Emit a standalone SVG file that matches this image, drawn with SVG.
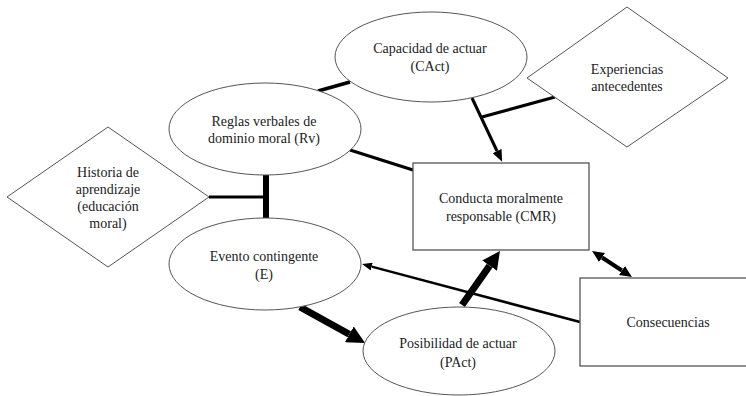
<svg xmlns="http://www.w3.org/2000/svg" width="746" height="396" viewBox="0 0 746 396">
<style>
.shape{fill:#fff;stroke:#555;stroke-width:1}
.box{fill:#fff;stroke:#555;stroke-width:1.3}
text{font-family:"Liberation Serif","Times New Roman",serif;font-size:14px;fill:#222;text-anchor:middle}
.c{stroke:#000;fill:none;stroke-linecap:butt}
</style>
<defs>
<marker id="a12" markerUnits="userSpaceOnUse" markerWidth="12" markerHeight="10" refX="0" refY="5" orient="auto"><path d="M0,0 L12,5 L0,10 z" fill="#000"/></marker>
<marker id="a10" markerUnits="userSpaceOnUse" markerWidth="10" markerHeight="8" refX="0" refY="4" orient="auto"><path d="M0,0 L10,4 L0,8 z" fill="#000"/></marker>
<marker id="a12b" markerUnits="userSpaceOnUse" markerWidth="12" markerHeight="11" refX="0" refY="5.5" orient="auto-start-reverse"><path d="M0,0 L12,5.5 L0,11 z" fill="#000"/></marker>
<marker id="a18" markerUnits="userSpaceOnUse" markerWidth="18" markerHeight="18" refX="0" refY="9" orient="auto"><path d="M0,0 L18,9 L0,18 z" fill="#000"/></marker>
</defs>
<g id="connectors">
<line class="c" x1="350" y1="82" x2="318" y2="91" stroke-width="3.5"/>
<line class="c" x1="350" y1="150" x2="413" y2="170" stroke-width="3"/>
<line class="c" x1="472" y1="98" x2="497" y2="151" stroke-width="3" marker-end="url(#a12)"/>
<line class="c" x1="555" y1="97" x2="482" y2="117" stroke-width="3"/>
<line class="c" x1="266" y1="175" x2="266" y2="218" stroke-width="6"/>
<line class="c" x1="209" y1="197" x2="266" y2="197" stroke-width="3"/>
<line class="c" x1="580" y1="322" x2="371.7" y2="266.6" stroke-width="2.5" marker-end="url(#a10)"/>
<line class="c" x1="602.1" y1="257.5" x2="621.9" y2="270.5" stroke-width="4" marker-start="url(#a12b)" marker-end="url(#a12b)"/>
<line class="c" x1="300" y1="307" x2="349.3" y2="334.3" stroke-width="7" marker-end="url(#a18)"/>
<line class="c" x1="462" y1="305" x2="489.6" y2="265.7" stroke-width="7" marker-end="url(#a18)"/>
</g>
<g id="cact">
<ellipse class="shape" cx="431" cy="57" rx="96" ry="45"/>
<text x="430" y="53">Capacidad de actuar</text>
<text x="430" y="71">(CAct)</text>
</g>
<g id="rv">
<ellipse class="shape" cx="265" cy="129" rx="96" ry="46"/>
<text x="264" y="126">Reglas verbales de</text>
<text x="264" y="143">dominio moral (Rv)</text>
</g>
<g id="historia">
<polygon class="shape" points="7,197 108,127 209,197 108,267"/>
<text x="108" y="177">Historia de</text>
<text x="108" y="194">aprendizaje</text>
<text x="108" y="211">(educación</text>
<text x="108" y="228">moral)</text>
</g>
<g id="evento">
<ellipse class="shape" cx="265" cy="264" rx="96" ry="46"/>
<text x="264" y="261">Evento contingente</text>
<text x="264" y="279">(E)</text>
</g>
<g id="experiencias">
<polygon class="shape" points="527,78 627,7 728,78 627,147"/>
<text x="627" y="74">Experiencias</text>
<text x="627" y="91">antecedentes</text>
</g>
<g id="cmr">
<rect class="box" x="413" y="163" width="176" height="87"/>
<text x="501" y="203">Conducta moralmente</text>
<text x="501" y="221">responsable (CMR)</text>
</g>
<g id="consecuencias">
<rect class="box" x="580" y="278" width="167" height="88"/>
<text x="668" y="327">Consecuencias</text>
</g>
<g id="pact">
<ellipse class="shape" cx="459" cy="351" rx="96" ry="44"/>
<text x="458" y="348">Posibilidad de actuar</text>
<text x="458" y="367">(PAct)</text>
</g>
</svg>
